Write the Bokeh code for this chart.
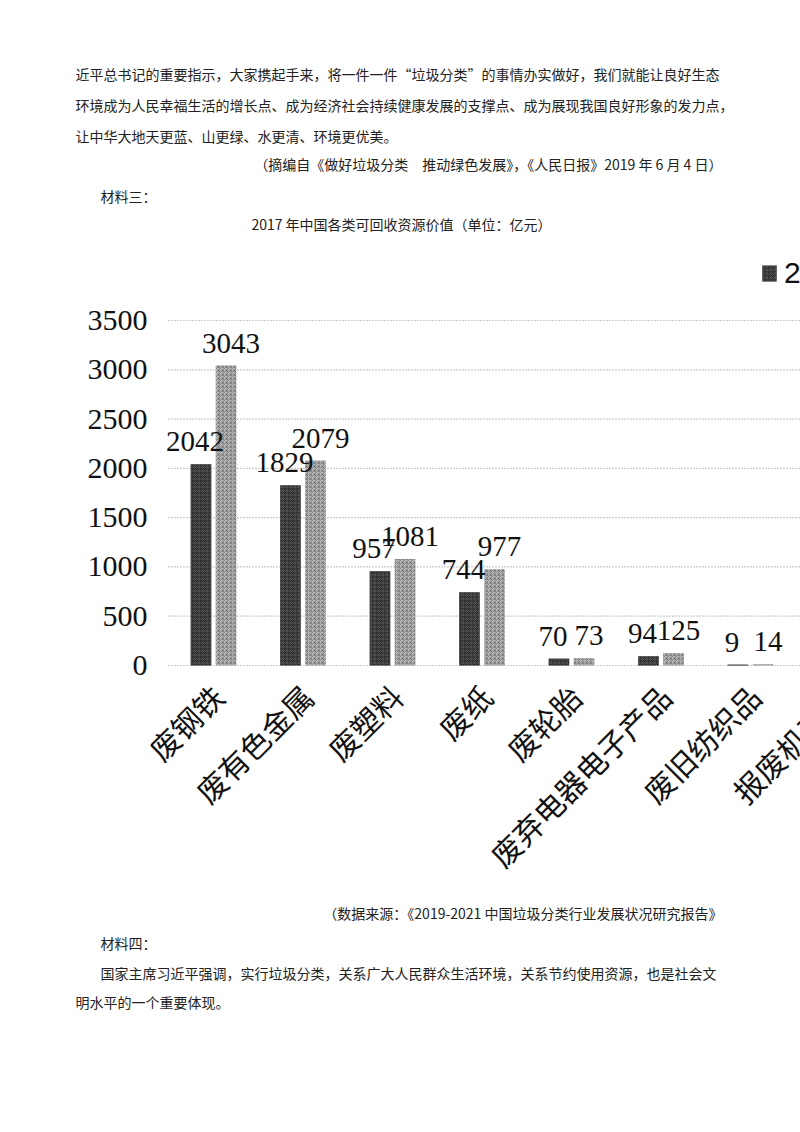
import numpy as np
from bokeh.plotting import figure
from bokeh.models import (ColumnDataSource, Range1d, FixedTicker, LabelSet,
                          Legend, LegendItem)
from bokeh.core.properties import value
from bokeh.embed import file_html
from bokeh.resources import INLINE

# ---------------- data ----------------
categories = ["废钢铁", "废有色金属", "废塑料", "废纸", "废轮胎",
              "废弃电器电子产品", "废旧纺织品", "报废机动车"]
series_names = ["2016", "2017"]
values_2016 = [2042, 1829, 957, 744, 70, 94, 9]
values_2017 = [3043, 2079, 1081, 977, 73, 125, 14]
y_ticks = [0, 500, 1000, 1500, 2000, 2500, 3000, 3500]

chart_title = "2017 年中国各类可回收资源价值（单位：亿元）"
top_body = ["近平总书记的重要指示，大家携起手来，将一件一件“垃圾分类”的事情办实做好，我们就能让良好生态",
            "环境成为人民幸福生活的增长点、成为经济社会持续健康发展的支撑点、成为展现我国良好形象的发力点，",
            "让中华大地天更蓝、山更绿、水更清、环境更优美。"]
top_cite = "（摘编自《做好垃圾分类　推动绿色发展》，《人民日报》2019 年 6 月 4 日）"
top_heading = "材料三："
bottom_source = "（数据来源：《2019-2021 中国垃圾分类行业发展状况研究报告》"
bottom_heading = "材料四："
bottom_body = ["国家主席习近平强调，实行垃圾分类，关系广大人民群众生活环境，关系节约使用资源，也是社会文",
               "明水平的一个重要体现。"]

W = 800
CJK = value("Noto Sans CJK SC")
TXT = "#222222"
FS = "14px"


def text_fig(h):
    f = figure(width=W, height=h, x_range=Range1d(0, W), y_range=Range1d(h, 0),
               output_backend="svg", toolbar_location=None, min_border=0,
               x_axis_location=None, y_axis_location=None)
    f.grid.visible = False
    f.outline_line_color = None
    return f


def put(f, xs, ys, texts, align):
    f.text(x=xs, y=ys, text=texts, text_font=CJK, text_font_size=FS,
           text_color=TXT, text_align=align, text_baseline="middle")


# ---------------- top text ----------------
H_TOP = 240
top = text_fig(H_TOP)
put(top, [75] * 3, [73, 104, 135], top_body, "left")
put(top, [722], [163], [top_cite], "right")
put(top, [100], [195], [top_heading], "left")
put(top, [401], [223], [chart_title], "center")

# ---------------- chart ----------------
n = len(values_2016)
idx = np.arange(n)
dodge = 0.14
bw = 0.23
src = ColumnDataSource(dict(
    x1=idx - dodge, x2=idx + dodge,
    v1=values_2016, v2=values_2017,
    t1=[str(v) for v in values_2016], t2=[str(v) for v in values_2017]))

H_CH = 640
X_START, X_END = -0.503, 6.559      # plot-area extent (in category units)
p = figure(width=W, height=H_CH, x_range=Range1d(-0.704, X_END),
           y_range=Range1d(-2181, 4210), output_backend="svg",
           toolbar_location=None, min_border_left=150, min_border_right=0,
           min_border_top=10, min_border_bottom=0, x_axis_location=None)
p.outline_line_color = None
p.xgrid.visible = False
p.ygrid.visible = False
# dotted gridlines across the plot area
p.segment(x0=[X_START] * len(y_ticks), x1=[X_END] * len(y_ticks),
          y0=y_ticks, y1=y_ticks, line_color="#9a9a9a",
          line_dash="1 2", line_width=1.2)

p.yaxis.ticker = FixedTicker(ticks=y_ticks)
p.yaxis.axis_line_color = None
p.yaxis.major_tick_line_color = None
p.yaxis.minor_tick_line_color = None
p.yaxis.major_tick_out = 0
p.yaxis.major_tick_in = 0
p.yaxis.major_label_standoff = 3
p.yaxis.major_label_text_font = "Liberation Serif"
p.yaxis.major_label_text_font_size = "30px"
p.yaxis.major_label_text_color = "#111111"

r1 = p.vbar(x="x1", top="v1", bottom=0, width=bw, source=src,
            fill_color="#262626", line_color=None,
            hatch_pattern="criss_cross", hatch_color="#5e5e5e",
            hatch_scale=4, hatch_weight=0.6)
r2 = p.vbar(x="x2", top="v2", bottom=0, width=bw, source=src,
            fill_color="#c2c2c2", line_color=None,
            hatch_pattern="criss_cross", hatch_color="#6a6a6a",
            hatch_scale=4, hatch_weight=0.6)

for xf, vf, tf, xo in (("x1", "v1", "t1", -6), ("x2", "v2", "t2", 5)):
    p.add_layout(LabelSet(x=xf, y=vf, text=tf, source=src, y_offset=13,
                          x_offset=xo,
                          text_align="center", text_baseline="alphabetic",
                          text_font=value("Liberation Serif"),
                          text_font_size="29px", text_color="#111111"))

# category labels (rotated, anchored below the zero line)
label_y = -254
cat_src = ColumnDataSource(dict(x=list(range(len(categories))),
                                y=[label_y] * len(categories),
                                text=categories))
p.add_layout(LabelSet(x="x", y="y", text="text", source=cat_src,
                      angle=np.pi / 4, text_align="right",
                      text_baseline="middle", x_offset=4,
                      text_font=CJK, text_font_size="30px",
                      text_color="#111111"))

legend = Legend(items=[LegendItem(label=series_names[0], renderers=[r1]),
                       LegendItem(label=series_names[1], renderers=[r2])],
                orientation="horizontal", location=(610, 590),
                glyph_width=18, glyph_height=20, label_height=20,
                label_standoff=6, padding=0, margin=0, spacing=20,
                border_line_color=None, background_fill_color=None,
                label_text_font="Liberation Sans",
                label_text_font_size="30px", label_text_color="#111111")
p.add_layout(legend, "center")

# ---------------- bottom text ----------------
H_BOT = 250
bot = text_fig(H_BOT)
put(bot, [722], [32], [bottom_source], "right")
put(bot, [100], [62], [bottom_heading], "left")
put(bot, [100, 75], [92, 121], bottom_body, "left")

open("out.html", "w").write(file_html([top, p, bot], INLINE))
